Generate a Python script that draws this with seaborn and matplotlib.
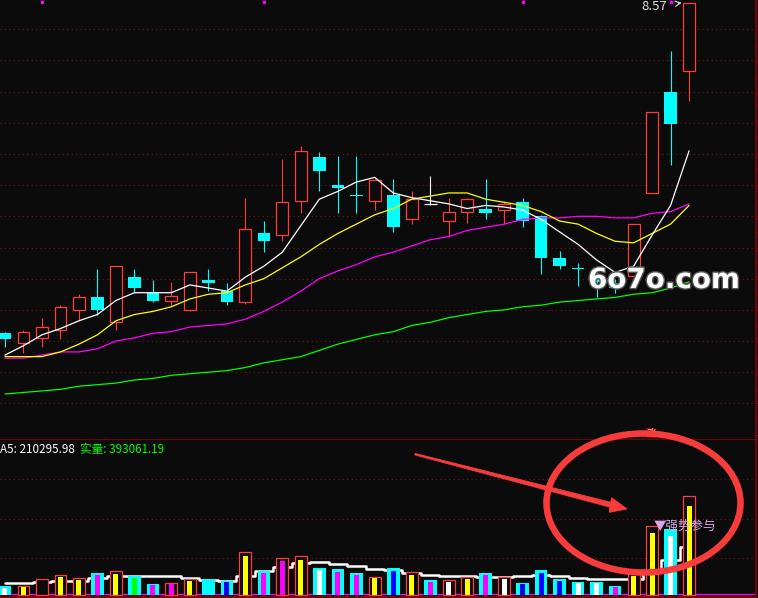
import matplotlib
matplotlib.use("Agg")
import matplotlib.pyplot as plt
import matplotlib.patheffects as pe
import matplotlib.transforms as mtransforms
from matplotlib.patches import Ellipse, Polygon
import numpy as np
import pandas as pd
import seaborn as sns

# ---------------------------------------------------------------- data
opens = [6.45, 6.39, 6.42, 6.47, 6.60, 6.68, 6.52, 6.81, 6.71, 6.66,
         6.60, 6.79, 6.72, 6.65, 7.09, 7.08, 7.30, 7.58, 7.40, 7.34,
         7.30, 7.34, 7.18, 7.28, 7.17, 7.23, 7.25, 7.24, 7.29, 7.20,
         6.93, 6.87, 6.81, 6.77, 6.82, 7.35, 8.00, 8.13]
highs = [6.46, 6.47, 6.55, 6.63, 6.70, 6.86, 6.88, 6.86, 6.79, 6.78,
         6.84, 6.86, 6.77, 7.32, 7.17, 7.57, 7.65, 7.61, 7.59, 7.59,
         7.44, 7.44, 7.36, 7.46, 7.32, 7.32, 7.44, 7.29, 7.32, 7.21,
         6.98, 6.90, 6.87, 6.80, 7.15, 7.87, 8.26, 8.57]
lows = [6.36, 6.32, 6.36, 6.41, 6.53, 6.57, 6.47, 6.71, 6.65, 6.63,
        6.59, 6.72, 6.63, 6.64, 6.97, 7.04, 7.22, 7.36, 7.22, 7.22,
        7.24, 7.10, 7.15, 7.27, 7.07, 7.16, 7.18, 7.15, 7.13, 6.83,
        6.86, 6.75, 6.68, 6.71, 6.82, 7.35, 7.53, 7.94]
closes = [6.41, 6.46, 6.49, 6.62, 6.68, 6.60, 6.88, 6.74, 6.66, 6.69,
          6.84, 6.77, 6.65, 7.12, 7.04, 7.29, 7.62, 7.49, 7.38, 7.33,
          7.43, 7.13, 7.31, 7.28, 7.23, 7.31, 7.22, 7.28, 7.17, 6.93,
          6.88, 6.86, 6.78, 6.74, 7.15, 7.87, 7.79, 8.57]

ma5 = [6.31, 6.37, 6.44, 6.48, 6.53, 6.57, 6.66, 6.71, 6.71, 6.71,
       6.76, 6.74, 6.72, 6.81, 6.88, 6.97, 7.14, 7.31, 7.36, 7.42,
       7.45, 7.35, 7.32, 7.30, 7.28, 7.25, 7.27, 7.26, 7.24, 7.18,
       7.10, 7.02, 6.92, 6.84, 6.88, 7.08, 7.27, 7.62]
ma10 = [6.30, 6.30, 6.30, 6.33, 6.38, 6.44, 6.53, 6.57, 6.59, 6.62,
        6.67, 6.70, 6.71, 6.76, 6.80, 6.87, 6.94, 7.02, 7.09, 7.15,
        7.21, 7.25, 7.31, 7.33, 7.35, 7.35, 7.31, 7.29, 7.27, 7.23,
        7.17, 7.15, 7.09, 7.04, 7.03, 7.09, 7.15, 7.27]
ma20 = [6.29, 6.29, 6.31, 6.33, 6.33, 6.35, 6.40, 6.42, 6.45, 6.46,
        6.49, 6.50, 6.51, 6.54, 6.59, 6.65, 6.72, 6.80, 6.85, 6.89,
        6.94, 6.97, 7.01, 7.05, 7.07, 7.11, 7.13, 7.15, 7.18, 7.19,
        7.19, 7.20, 7.20, 7.19, 7.19, 7.22, 7.23, 7.28]
ma60 = [6.06, 6.07, 6.08, 6.09, 6.11, 6.12, 6.13, 6.15, 6.16, 6.18,
        6.19, 6.20, 6.21, 6.23, 6.26, 6.28, 6.30, 6.34, 6.38, 6.41,
        6.44, 6.46, 6.50, 6.52, 6.55, 6.57, 6.59, 6.60, 6.62, 6.63,
        6.65, 6.66, 6.67, 6.68, 6.70, 6.71, 6.74, 6.78]

vol_total = [39700, 38400, 69300, 87000, 73700, 97200, 104700, 85200, 48600, 51700,
             69300, 70700, 61800, 188600, 106000, 162100, 170900, 119200, 114800, 97200,
             78200, 119200, 100200, 66200, 64900, 79500, 97200, 78200, 53000, 110400,
             70700, 57400, 57400, 41100, 95000, 303400, 292800, 435900]
vol_real = [32000, 34000, 63000, 79500, 66200, 88300, 92700, 75100, 44200, 48600,
            63200, 70700, 57400, 173600, 97200, 151500, 155900, 110400, 102900, 89600,
            75100, 107300, 89600, 57400, 57400, 72000, 89600, 72000, 48600, 98500,
            61800, 54300, 54300, 36700, 86000, 273800, 261900, 393061.19]
real_colors = ["white", "yellow", "none", "yellow", "yellow", "magenta", "yellow", "lime", "magenta", "magenta",
               "yellow", "cyan", "blue", "yellow", "magenta", "magenta", "yellow", "white", "magenta", "magenta",
               "yellow", "blue", "yellow", "magenta", "white", "yellow", "magenta", "white", "blue", "blue",
               "blue", "white", "white", "magenta", "yellow", "yellow", "white", "yellow"]
vol_ma5 = [51700, 54300, 57400, 60500, 63200, 75100, 86100, 85200, 81700, 83900,
           75100, 68400, 64000, 83900, 103800, 123600, 141300, 145700, 139100, 128100,
           117000, 108200, 97200, 89600, 84800, 81700, 80800, 80800, 83900, 87000,
           81700, 75100, 70700, 69300, 70700, 101600, 154600, 210295.98]

signal_days = [2, 14, 28, 36]

# ---------------------------------------------------------------- style
BG = "#0b0b0b"
RED = "#ff3c3c"
CYAN = "#00ffff"
GRID = "#7a1414"
FRAME = "#8b0000"

sns.set_theme(style="dark", rc={"axes.facecolor": BG, "figure.facecolor": BG,
                                "savefig.facecolor": BG})
plt.rcParams["font.family"] = ["Noto Sans CJK SC", "DejaVu Sans"]

df = pd.DataFrame({"open": opens, "high": highs, "low": lows, "close": closes,
                   "ma5": ma5, "ma10": ma10, "ma20": ma20, "ma60": ma60,
                   "vol": vol_total, "real": vol_real, "real_color": real_colors,
                   "vol_ma5": vol_ma5})
df["day"] = np.arange(len(df))

W, H = 758, 598
fig = plt.figure(figsize=(W / 100, H / 100), dpi=100)
ax = fig.add_axes([0, 158 / H, 756 / W, 440 / H])
axv = fig.add_axes([0, 1 / H, 756 / W, 157 / H])

XLIM = (-0.27, 40.62)

# ---------------------------------------------------------------- price panel
for p in np.arange(6.0, 8.41, 0.2):
    ax.axhline(p, color=GRID, lw=0.8, ls=(0, (1, 3)), zorder=1)

up = df[df.close > df.open]
down = df[df.close < df.open]
flat = df[df.close == df.open]

ax.vlines(up.day, up.close, up.high, color=RED, lw=0.8, zorder=2)
ax.vlines(up.day, up.low, up.open, color=RED, lw=0.8, zorder=2)
ax.bar(up.day, up.close - up.open, bottom=up.open, width=0.64,
       facecolor=BG, edgecolor=RED, linewidth=0.9, zorder=3)

ax.vlines(down.day, down.low, down.high, color=CYAN, lw=0.8, zorder=2)
ax.bar(down.day, down.open - down.close, bottom=down.close, width=0.68,
       color=CYAN, linewidth=0, zorder=3)

ax.vlines(flat.day, flat.low, flat.high, color="white", lw=0.8, zorder=2)
ax.hlines(flat.close, flat.day - 0.34, flat.day + 0.34, color="white", lw=0.9, zorder=3)

sns.lineplot(data=df, x="day", y="ma60", ax=ax, color="#00ff00", lw=0.9, zorder=4)
sns.lineplot(data=df, x="day", y="ma20", ax=ax, color="#ff00ff", lw=0.9, zorder=4)
sns.lineplot(data=df, x="day", y="ma10", ax=ax, color="#ffff00", lw=0.9, zorder=4)
sns.lineplot(data=df, x="day", y="ma5", ax=ax, color="white", lw=0.9, zorder=4)

top_tr = mtransforms.blended_transform_factory(ax.transData, ax.transAxes)
ax.plot(signal_days, [0.996] * len(signal_days), ls="none", marker="s", ms=1.6,
        color="#ff00ff", transform=top_tr, clip_on=False)

last = df.iloc[-1]
ax.annotate(f"{last.high:.2f}", xy=(last.day - 0.4, last.high),
            xytext=(last.day - 1.9, last.high - 0.025),
            color="#e0e0e0", fontsize=9.5, ha="center", va="center",
            arrowprops=dict(arrowstyle="->", color="#e0e0e0", lw=0.8,
                            shrinkA=6, shrinkB=0))

ax.set_xlim(*XLIM)
ax.set_ylim(5.765, 8.588)
ax.set_xlabel("")
ax.set_ylabel("")
ax.set_xticks([])
ax.yaxis.tick_right()
ax.set_yticks(np.arange(5.8, 8.59, 0.1))
ax.tick_params(axis="y", length=2.2, width=0.8, colors=FRAME, labelright=False,
               direction="out")
for side in ["top", "left"]:
    ax.spines[side].set_visible(False)
for side in ["bottom", "right"]:
    ax.spines[side].set_color(FRAME)
    ax.spines[side].set_linewidth(1.2)

# ---------------------------------------------------------------- volume panel
VLIM = (-8832, 684480)
for f in (0.25, 0.5, 0.75):
    axv.axhline(VLIM[0] + f * (VLIM[1] - VLIM[0]), color=GRID, lw=0.8,
                ls=(0, (1, 3)), zorder=1)
axv.axhline(2500, color="#ff00ff", lw=0.9, zorder=1.5)

sns.lineplot(data=df, x="day", y="vol_ma5", ax=axv, color="white", lw=1.8,
             drawstyle="steps-mid", zorder=2)

v_up = df[df.close > df.open]
v_dn = df[df.close <= df.open]
axv.bar(v_dn.day, v_dn.vol, width=0.68, color=CYAN, linewidth=0, zorder=3)
axv.bar(v_up.day, v_up.vol, width=0.64, facecolor=BG, edgecolor=RED,
        linewidth=0.9, zorder=3)
axv.bar(df.day, df.real, width=0.27, color=df.real_color, linewidth=0, zorder=4)

axv.set_xlim(*XLIM)
axv.set_ylim(*VLIM)
axv.set_xlabel("")
axv.set_ylabel("")
axv.set_xticks([])
axv.set_yticks([])
axv.spines["top"].set_visible(False)
axv.spines["left"].set_visible(False)
for side in ["bottom", "right"]:
    axv.spines[side].set_color(FRAME)
    axv.spines[side].set_linewidth(1.2)

# header of the volume panel
fig.text(0, 1 - 453 / H, f"A5: {vol_ma5[-1]:.2f}", color="white",
         fontsize=8.4, va="baseline", ha="left")
fig.text(80 / W, 1 - 453 / H, f"实量: {vol_real[-1]:.2f}",
         color="#00ff00", fontsize=8.4, va="baseline", ha="left")

# ---------------------------------------------------------------- overlays
fig.text(588 / W, 1 - 288 / H, "6o7o.com", fontsize=20, fontweight="bold",
         family="DejaVu Sans", color="white", va="baseline", ha="left",
         path_effects=[pe.withStroke(linewidth=2, foreground="#555555")])

fig.text(651 / W, 1 - 433 / H, "涨", fontsize=6.5, color="#ffd0d0",
         ha="center", va="center",
         bbox=dict(boxstyle="square,pad=0.1", facecolor="#7a0000", edgecolor="none"))

fig.add_artist(Ellipse((643.5 / W, 1 - 503 / H), 194 / W, 139 / H,
                       transform=fig.transFigure, fill=False,
                       edgecolor="#f83c3c", lw=4.7, zorder=10))

arrow_px = [(415, 453.4), (610.6, 502.2), (611.7, 497.7), (627, 509),
            (609.3, 512.3), (609.4, 507.0), (415, 455.0)]
fig.add_artist(Polygon([(x / W, 1 - y / H) for x, y in arrow_px], closed=True,
                       transform=fig.transFigure, facecolor="#f83c3c",
                       edgecolor="#f83c3c", lw=0.6, zorder=10))

fig.text(654 / W, 1 - 526 / H, "▼强势参与", color="#d8a6e6", fontsize=9,
         ha="left", va="center", zorder=11)

fig.savefig("out.png", dpi=100, facecolor=BG)
